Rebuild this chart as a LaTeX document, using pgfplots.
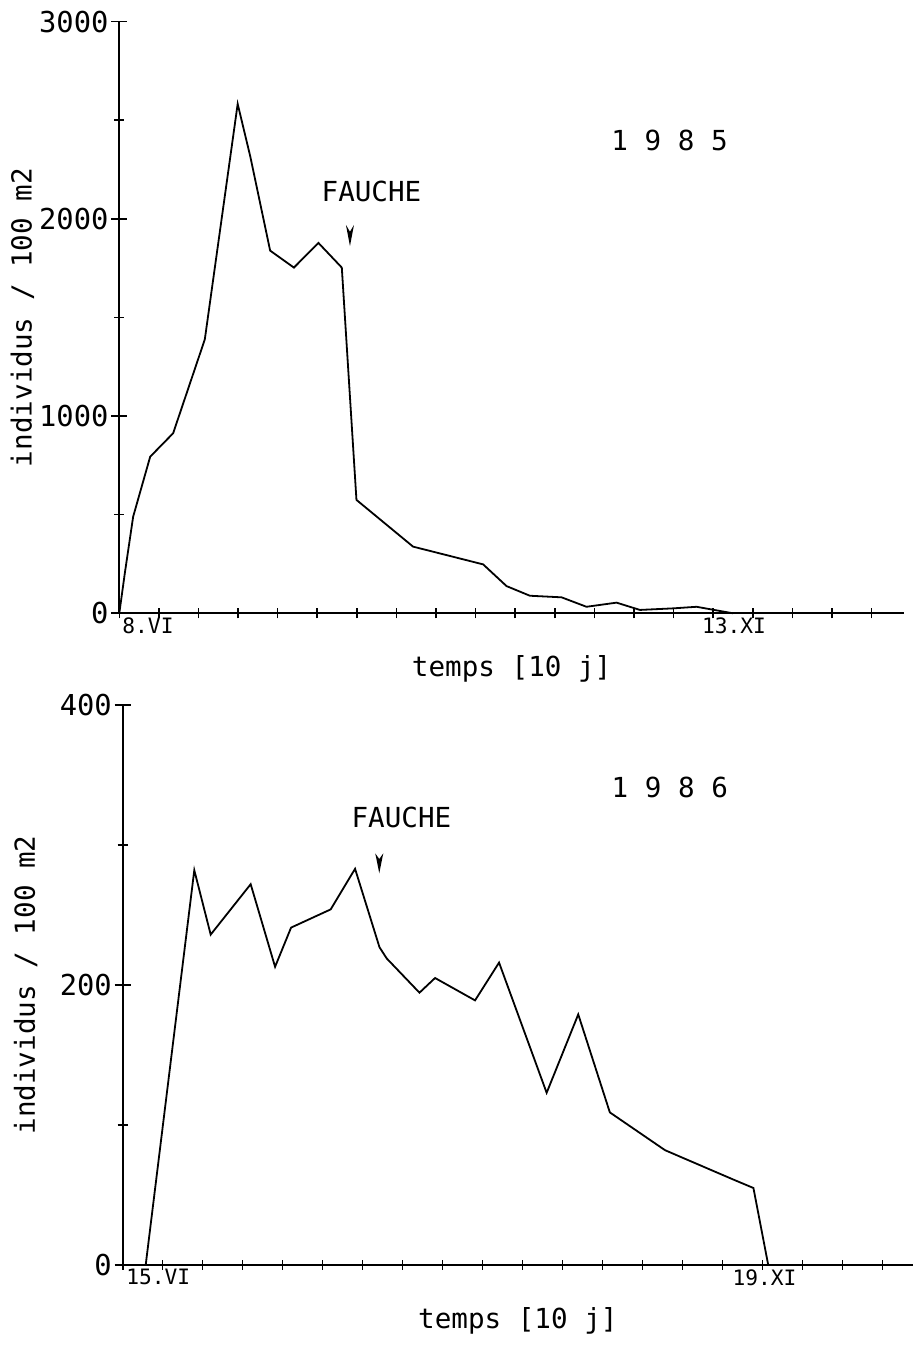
\documentclass[border=0pt]{standalone}
\usepackage{fontspec}
\setmainfont{DejaVu Sans Mono}
\usepackage{pgfplots}
\pgfplotsset{compat=1.18}
\begin{document}
\fontsize{13.8}{16}\selectfont
\begin{tikzpicture}
\path (0,0) rectangle (458.5pt,682pt);
\pgfplotsset{
  plotter/.style={
    scale only axis,
    axis x line=bottom, axis y line=left,
    axis line style={-, line width=0.9pt},
    tick align=center,
    tick style={black, line width=0.8pt},
    xtick style={/pgfplots/major tick length=5pt},
    ytick style={/pgfplots/major tick length=8pt, /pgfplots/minor tick length=5pt},
    /pgf/number format/assume math mode=true,
    yticklabel style={xshift=1.5pt, font=\fontsize{14.4}{16}\selectfont},
    xticklabels={},
    xtick={0,1,...,19},
    ylabel style={at={(axis description cs:0,0.5)}, anchor=center, yshift=48.5pt},
    xlabel style={at={(axis description cs:0.5,0)}, anchor=center, yshift=-28pt},
    clip=false,
  }
}
% 1985
\begin{axis}[plotter, at={(59.65pt,375.35pt)}, anchor=origin,
  width=392.35pt, height=295.8pt,
  xmin=0, xmax=19.82, ymin=0, ymax=3000,
  ytick={0,1000,2000,3000}, yticklabels={0,1000,2000,3000},
  minor ytick={500,1500,2500},
  ylabel={individus / 100 m2}, xlabel={temps [10 j]}]
\addplot[black, no markers, line width=0.9pt] coordinates {(0,0)(0.14,204)(0.35,490)(0.78,794)(1.36,913)(2.16,1389)(2.99,2583)(3.31,2315)(3.81,1839)(4.41,1753)(5.03,1878)(5.62,1753)(5.99,575)(7.42,338)(9.19,248)(9.78,138)(10.37,89)(11.17,81)(11.80,33)(12.56,54)(13.15,17)(13.99,25)(14.58,33)(15.5,0)};
\node[anchor=north west, inner sep=0pt, font=\fontsize{10.6}{12}\selectfont] at (axis cs:0.07,0) [yshift=-2pt] {8.VI};
\node[anchor=north west, inner sep=0pt, font=\fontsize{10.6}{12}\selectfont] at (axis cs:14.71,0) [yshift=-2pt] {13.XI};
\node[anchor=center, inner sep=0pt] at (axis cs:13.9,2400) {1 9 8 5};
\node[anchor=center, inner sep=0pt] at (axis cs:6.37,2138) {FAUCHE};
\fill (axis cs:5.725,1969) -- (axis cs:5.826,1862) -- (axis cs:5.927,1969) -- (axis cs:5.826,1935) -- cycle;
\end{axis}
% 1986
\begin{axis}[plotter, at={(61.35pt,49.5pt)}, anchor=origin,
  width=395.15pt, height=280pt,
  xmin=0, xmax=19.76, ymin=0, ymax=400,
  ytick={0,200,400}, yticklabels={0,200,400},
  minor ytick={100,300},
  ylabel={individus / 100 m2}, xlabel={temps [10 j]}]
\addplot[black, no markers, line width=0.9pt] coordinates {(0.575,0)(1.79,282)(2.2,236)(3.2,272)(3.81,213)(4.21,241)(5.2,254)(5.81,283)(6.42,227)(6.6,219)(7.42,194.5)(7.81,205)(8.81,189)(9.41,216)(10.6,123)(11.39,179)(12.18,109)(13.56,82)(15.27,61)(15.77,55)(16.14,0)};
\node[anchor=north west, inner sep=0pt, font=\fontsize{10.6}{12}\selectfont] at (axis cs:0.08,0) [yshift=-2pt] {15.VI};
\node[anchor=north west, inner sep=0pt, font=\fontsize{10.6}{12}\selectfont] at (axis cs:15.24,0) [yshift=-2pt] {19.XI};
\node[anchor=center, inner sep=0pt] at (axis cs:13.68,341) {1 9 8 6};
\node[anchor=center, inner sep=0pt] at (axis cs:6.97,320) {FAUCHE};
\fill (axis cs:6.315,294) -- (axis cs:6.415,279.8) -- (axis cs:6.515,294) -- (axis cs:6.415,290) -- cycle;
\end{axis}
\end{tikzpicture}
\end{document}
